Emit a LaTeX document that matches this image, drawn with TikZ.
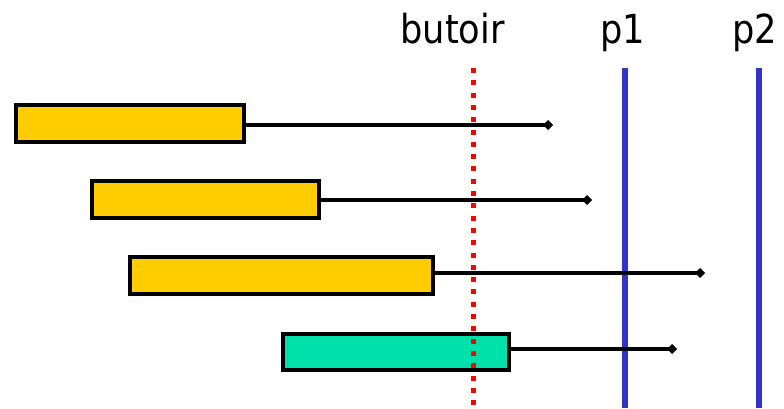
\documentclass[tikz,border=0pt]{standalone}
\usepackage{fontspec}
\setmainfont{DejaVu Sans}
\usetikzlibrary{arrows.meta}
\definecolor{jaune}{HTML}{FFCC00}
\definecolor{vert}{HTML}{00E0AA}
\definecolor{bleu}{HTML}{3333CC}
\tikzset{
  tache/.style={draw=black, line width=4pt, inner sep=0pt, minimum height=37pt},
  duree/.style={line width=4pt, -{Diamond[length=10pt,width=10pt]}},
  borne/.style={draw=bleu, line width=6pt},
  lbl/.style={anchor=base, inner sep=0pt, font=\fontsize{40}{48}\selectfont}
}
\newcommand{\etroit}[1]{\scalebox{0.88}[1]{#1}}

\begin{document}
\begin{tikzpicture}[x=1pt, y=-1pt]
  \useasboundingbox (0,0) rectangle (784,408);
  \node[lbl] (lbutoir) at (452.5,43) {\etroit{butoir}};
  \node[lbl] (lp1) at (623,43) {\etroit{p1}};
  \node[lbl] (lp2) at (755,43) {\etroit{p2}};
  \coordinate (p1h) at (625,68);
  \coordinate (p1b) at (625,408);
  \coordinate (p2h) at (759,68);
  \coordinate (p2b) at (759,408);
  \draw[borne] (p1h) -- (p1b);
  \draw[borne] (p2h) -- (p2b);
  %
  \node[tache, fill=jaune, minimum width=228pt] (t1) at (130,123.5) {};
  \node[tache, fill=jaune, minimum width=227pt] (t2) at (205.5,199) {};
  \node[tache, fill=jaune, minimum width=303pt] (t3) at (281.5,275.5) {};
  \node[tache, fill=vert, minimum width=226pt, minimum height=36pt] (t4) at (396,352) {};
  \coordinate (f1) at (553,125);
  \coordinate (f2) at (592,200);
  \coordinate (f3) at (705,273);
  \coordinate (f4) at (677,349);
  \draw[duree] (t1.east |- f1) -- (f1);
  \draw[duree] (t2.east |- f2) -- (f2);
  \draw[duree] (t3.east |- f3) -- (f3);
  \draw[duree] (t4.east |- f4) -- (f4);
  %
  \coordinate (bh) at (473,68);
  \coordinate (bb) at (473,408);
  \draw[red, line width=5pt, dash pattern=on 5pt off 7.3pt] (bh) -- (bb);
\end{tikzpicture}
\end{document}
